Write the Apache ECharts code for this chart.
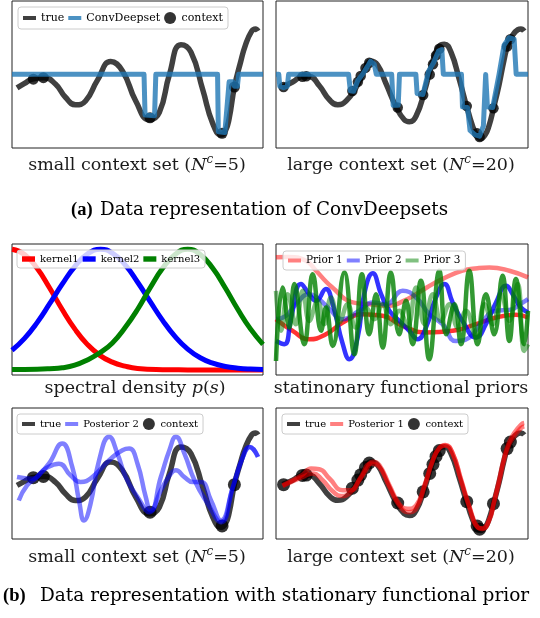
<!DOCTYPE html>
<html><head><meta charset="utf-8">
<script src="https://cdn.jsdelivr.net/npm/echarts@6/dist/echarts.min.js"></script>
<style>html,body{margin:0;padding:0;background:#fff}#c{width:540px;height:618px}</style>
</head><body><div id="c"></div>
<script>
// ---------- data (x: % of panel width, y: % of panel height) ----------
const trueLeft = [[2,40.9],[5,44],[8,46.8],[12.7,47.8],[17.3,43.5],[21.3,34.5],[25.3,29.4],[29.3,32],[34,46],[39.3,58.8],[44,52.4],[49.3,32],[54.7,19.2],[58.7,24.3],[62.7,49.9],[67.3,70.3],[71.3,65.2],[76,39.6],[80,16.6],[83.3,9],[85,11.5],[86.5,20],[88.6,41.5],[91,58],[93,70],[95.5,79.5],[97,81],[98,79.5]];
const trueRight = [[2.6,41.5],[6.6,44.9],[10.6,48.7],[13.2,48.7],[17.2,42.3],[21.2,32.8],[24.5,29.5],[27.8,32],[31.7,41],[35,52.6],[37.7,59],[40.3,56.4],[43.7,43.6],[47.6,28.2],[50.9,19.2],[52.9,17.9],[55.6,21.8],[58.9,38.5],[62.2,59],[64.8,69.2],[66.8,70.5],[69.4,65.4],[72.8,46.2],[76.1,25.6],[79.4,9],[81.3,6.4],[83,9],[84.5,15],[86.3,27],[88.5,43],[90.5,60],[92,70],[94,77],[96,80.5],[97.2,81],[98.5,79.5]];
const ctxSmall = [[8.5,46.8],[12.5,47.8],[55,20.5],[83.7,10],[88.6,41.5]];
const ctxLarge = [[3,41.5],[10.5,48.5],[12,48.8],[30.3,38.8],[32.5,45],[33.6,49],[35.5,54.5],[37,58],[48.3,27.5],[58.4,36],[61,50],[62.3,57],[63.5,63],[64.8,67.5],[75.7,28.5],[79.8,10],[80.8,7.5],[86.3,27],[91.7,69],[93,74]];
const convSmall = [[0,50.2],[52.6,50.2],[53,22.5],[56.8,22],[57.3,50.2],[81.9,50.2],[82.2,11],[84.8,10.5],[86.5,45],[88,45],[88.6,42],[89.8,42],[90.3,50.2],[100,50.2]];
const convLarge = [[0,50.2],[1.1,50.2],[1.5,42],[3,41],[4.5,42],[5,50.2],[28.8,50.2],[29.5,39],[30.8,38.6],[32.5,46],[34.5,50.5],[36.5,56],[37.5,59],[39,57],[39.8,50.2],[45.9,50.2],[46.5,29],[48.5,29],[49,50.2],[55.5,50.2],[56,37],[58.3,36.4],[60.5,52],[62.5,58],[64.5,66],[65.8,67],[66.4,50.2],[73.6,50.2],[74,28],[76,27.5],[77,12],[79,9],[80.8,8],[82.3,15],[83.2,50],[83.9,28],[86,27.5],[88.5,50],[90.5,70],[92.5,75],[94.5,74],[95.3,50.2],[100,50.2]];
const kernel1 = [[0,96],[5,92],[10,81.4],[15,66.4],[20,50],[25,35.2],[30,23.4],[35,15],[40,9.8],[45,6.8],[50,5],[60,4.1],[70,3.9],[80,3.8],[100,3.8]];
const kernel2 = [[0,18.9],[5,28],[10,40],[15,54.4],[20,69.3],[25,82.8],[30,92.3],[35.3,96],[40,93],[45,84.2],[50,71],[55,56.2],[60,41.7],[65,29.3],[70,19.8],[75,13.2],[80,9],[85,6.5],[90,5.2],[95,4.5],[100,4.2]];
const kernel3 = [[0,4.2],[10,4.4],[15,4.8],[20,5.5],[25,7.5],[30,11.5],[35,17],[40,24.5],[45,36],[50,50],[55,66.4],[60,81.4],[65,92],[70,96],[75,92],[80,81.4],[85,66.4],[90,50],[95,35.2],[100,23.4]];
const prior1a = [[0,89.8],[5,90],[11.9,87.2],[15.9,79.6],[20,71],[23.8,64.3],[27,58.5],[30.4,55.4],[37,54],[45,52.8],[50,56],[55.6,61.7],[60,67],[66,73.2],[74,79.6],[80,81.5],[84.7,82.1],[92.6,79.6],[100,74.5]];
const prior1b = [[0,42.6],[6.6,33.7],[13.2,27.3],[19.8,31.1],[26.5,40],[34.4,46.4],[42.3,45.2],[50.3,37.5],[59.5,32.4],[70.1,33.7],[79.4,38.8],[87.3,43.9],[95.2,45.9],[100,43.9]];
const prior2a = [[0,42.6],[4,45.2],[7.9,54],[13.2,61.7],[17,58],[21.2,50.3],[26.5,42.6],[33,49],[38.4,55.4],[43.7,54],[50.3,64.3],[55.6,59.2],[60.8,46.4],[66.1,38.8],[71.4,26],[76.7,28.6],[82,41.3],[87.3,49],[92.6,49.7],[97.9,55.4],[100,57.9]];
const prior2b = [[0,26],[3.3,23.5],[6,43.9],[9.9,69.4],[13.2,61.7],[15.9,56.6],[19.8,65.6],[22.5,54],[26.5,23.5],[29.1,12],[32.4,28.6],[35,61.7],[38.4,77.6],[41.7,61.7],[45,49],[48.9,41.3],[52.9,33.7],[56.2,27.3],[59.5,36.2],[63.5,59.2],[66.8,69.4],[70.1,55.4],[74,41.3],[79.4,28.6],[83.3,38.8],[87.3,55.4],[91.3,68.1],[93.9,61.7],[97.2,51.5],[100,47.7]];
const prior3a = [[0,64.3],[2,33.7],[4.6,61.7],[7.9,38.8],[10.6,64.3],[13.2,41.3],[16.5,56.6],[19.2,38.8],[21.8,59.2],[25.1,40],[28.4,54.1],[31.7,36.2],[35.7,51.5],[39,42.6],[42.3,54.1],[45.6,38.8],[48.9,49],[52.2,37.5],[55.6,66.8],[58.9,38.8],[62.2,61.7],[65.5,41.3],[68.8,54.1],[72.1,36.2],[75.4,49],[79.4,28.6],[82.7,54.1],[86,38.8],[89.3,61.7],[92.6,41.3],[95.9,69.4],[98.5,18.4],[100,23.5]];
const prior3b = [[0,10.7],[2.6,66.8],[5.3,36.2],[7.3,69.4],[11.2,23.5],[14.6,77],[17.9,33.7],[19.8,51.5],[22.5,22.2],[27.1,78.3],[31.1,15.8],[34.1,77],[37,31.1],[39.7,61.7],[42.3,20.9],[45.6,78.3],[48.9,31.1],[51.6,56.6],[54.2,23.5],[57.5,71.9],[60.8,12],[64.8,79.6],[67.5,31.1],[70.8,54.1],[73.4,23.5],[76.7,79.6],[80,23.5],[83.3,61.7],[86.6,31.1],[89.9,75.8],[92.6,26],[95.2,73.2],[98.5,23.5],[100,49]];
const post2a = [[2.7,29.4],[6,40.9],[10,47.3],[14.7,57.5],[20,72.9],[24,55],[26.7,29.4],[28.7,14.1],[31.3,26.9],[34.7,60.1],[38.7,78],[42,65.2],[45.3,47.3],[50,32],[54.7,20.5],[59.3,47.3],[62.7,67.8],[65.3,78],[68.7,65.2],[72.7,44.8],[78,26.9],[83.3,12.8],[88,39.6],[92,62.7],[94.7,70.3],[98,62.7]];
const post2b = [[2,47.3],[8,46],[13.3,53.7],[18.7,57.5],[23.3,48.6],[27.3,43.5],[32,47.3],[38.7,60.1],[44,67.8],[46.7,69],[50,57.5],[53.3,32],[55.3,21.7],[59.3,37],[63.3,49.9],[65.3,52.4],[68.7,47.3],[72,43.5],[75.3,43.5],[79.3,29.4],[83.3,14.1],[88,39.6],[92,62.7],[94.7,70.3],[98,62.7]];
const post1a = [[2.6,41],[6.6,44.9],[10.6,49.2],[13.9,53.8],[17.2,53.3],[21.2,46.2],[26.5,37.2],[29.8,37.2],[33.1,44.9],[35.7,52.6],[38.4,59],[41,56.4],[45,41],[48.9,26.9],[52.2,23.1],[55.6,25.6],[58.9,41],[62.2,60.3],[64.8,69.7],[67.2,71.8],[70.1,65.4],[73.4,44.9],[76.7,24.4],[80,9],[82,8.2],[84.7,15.4],[86.3,27],[88.5,45],[90.5,62],[92.5,74],[94.6,81],[97.2,87.2],[98.5,88.5]];
const post1b = [[2.6,40.5],[10.6,47.4],[14.6,50],[18.5,44.9],[22.5,36.4],[25.8,32.8],[29.8,35.9],[33.7,47.4],[37.7,57.7],[41,55.1],[45,39.7],[48.9,25.6],[52.6,20.5],[55.6,23.1],[58.9,39.7],[62.2,59.5],[64.8,69.2],[67.2,71.3],[70.1,65.4],[73.4,45.6],[76.7,25.1],[80,9],[82,7.7],[84.7,14.6],[86.3,26],[88.5,43],[90.5,60],[92.5,72],[94.6,78.5],[97.2,84.6],[98.5,86]];

// ---------- helpers ----------
const SERIF = 'DejaVu Serif';
function lineS(name, data, g, color, width, opacity, z, smooth) {
  return {type:'line', name, data, xAxisIndex:g, yAxisIndex:g, showSymbol:false, symbol:'none',
    smooth: smooth, lineStyle:{color, width, opacity, join:'round', cap:'butt'},
    itemStyle:{color}, z, silent:true, animation:false};
}
function ctxS(data, g, size) {
  return {type:'scatter', name:'context', data, xAxisIndex:g, yAxisIndex:g, symbol:'circle',
    symbolSize:size, itemStyle:{color:'#000'}, z:3, silent:true, animation:false};
}
const LINE_ICON = 'path://M0,0H13V4H0Z';
const LINE_ICON_THICK = 'path://M0,0H12V5H0Z';
function legendFor(items, left, top, fontSize, pad, gap) {
  return {left, top, orient:'horizontal', itemWidth:13, itemHeight:12, itemGap:gap, padding:pad,
    backgroundColor:'rgba(255,255,255,0.8)', borderColor:'#cccccc', borderWidth:1, borderRadius:3,
    selectedMode:false, z:10, itemStyle:{borderWidth:0},
    textStyle:{fontFamily:SERIF, fontSize, color:'#000'},
    data: items.map(it => ({name:it[0], icon:it[2], itemStyle:{color:it[1], borderWidth:0}}))};
}

const gridBoxes = [
  {left:12, top:1, width:251, height:147},
  {left:276, top:1, width:252, height:147},
  {left:12, top:244, width:251, height:131},
  {left:276, top:244, width:252, height:131},
  {left:12, top:408, width:251, height:131},
  {left:276, top:408, width:252, height:131}
];

const series = [
  lineS('true', trueLeft, 0, '#000', 5.5, 0.75, 2, 0.5),
  ctxS(ctxSmall, 0, 11),
  lineS('ConvDeepset', convSmall, 0, '#1f77b4', 5, 0.8, 4, false),
  lineS('true', trueRight, 1, '#000', 5.5, 0.75, 2, 0.5),
  ctxS(ctxLarge, 1, 10.5),
  lineS('ConvDeepset', convLarge, 1, '#1f77b4', 5, 0.8, 4, false),
  lineS('kernel1', kernel1, 2, '#ff0000', 5, 1, 2, 0.5),
  lineS('kernel2', kernel2, 2, '#0000ff', 5, 1, 2, 0.5),
  lineS('kernel3', kernel3, 2, '#008000', 5, 1, 2, 0.5),
  lineS('Prior 1', prior1a, 3, '#ff0000', 4.5, 0.5, 2, 0.5),
  lineS('Prior 1', prior1b, 3, '#ff0000', 4.5, 0.8, 2, 0.5),
  lineS('Prior 2', prior2a, 3, '#0000ff', 4.5, 0.5, 2, 0.5),
  lineS('Prior 2', prior2b, 3, '#0000ff', 4.5, 0.8, 2, 0.5),
  lineS('Prior 3', prior3a, 3, '#008000', 4.5, 0.5, 2, 0.45),
  lineS('Prior 3', prior3b, 3, '#008000', 4.5, 0.8, 2, 0.45),
  lineS('true', trueLeft, 4, '#000', 5.5, 0.75, 2, 0.5),
  ctxS(ctxSmall, 4, 13),
  lineS('Posterior 2', post2a, 4, '#0000ff', 4.5, 0.5, 4, 0.5),
  lineS('Posterior 2', post2b, 4, '#0000ff', 4.5, 0.5, 4, 0.5),
  lineS('true', trueRight, 5, '#000', 5.5, 0.75, 2, 0.5),
  ctxS(ctxLarge, 5, 13),
  lineS('Posterior 1', post1a, 5, '#ff0000', 4.5, 0.5, 4, 0.5),
  lineS('Posterior 1', post1b, 5, '#ff0000', 4.5, 0.5, 4, 0.5)
];

const legends = [
  legendFor([['true','#404040',LINE_ICON],['ConvDeepset','#4c92c3',LINE_ICON],['context','#000','circle']], 18, 7, 11, [5,5], 4),
  legendFor([['kernel1','#ff0000',LINE_ICON_THICK],['kernel2','#0000ff',LINE_ICON_THICK],['kernel3','#008000',LINE_ICON_THICK]], 17, 250, 10, [4,5], 4),
  legendFor([['Prior 1','#ff8080',LINE_ICON],['Prior 2','#8080ff',LINE_ICON],['Prior 3','#80c080',LINE_ICON]], 283, 251, 10.5, [4,5], 4),
  legendFor([['true','#404040',LINE_ICON],['Posterior 2','#8080ff',LINE_ICON],['context','#000','circle']], 17, 414, 10, [4,5], 4),
  legendFor([['true','#404040',LINE_ICON],['Posterior 1','#ff8080',LINE_ICON],['context','#000','circle']], 282, 414, 10, [4,5], 4)
];

const capRich = {
  r:{fontFamily:SERIF, fontSize:17.5, lineHeight:22, color:'#1a1a1a', fill:'#1a1a1a'},
  i:{fontFamily:SERIF, fontSize:17.5, lineHeight:22, fontStyle:'italic', color:'#1a1a1a', fill:'#1a1a1a'},
  s:{fontFamily:SERIF, fontSize:12, lineHeight:13, fontStyle:'italic', verticalAlign:'top', color:'#1a1a1a', fill:'#1a1a1a'}
};
function cap(x, y, text) {
  return {type:'text', x, y, silent:true, z:20,
    style:{text, rich:capRich, align:'center', textAlign:'center', verticalAlign:'middle', textVerticalAlign:'middle'}};
}
function plain(x, y, text, font, size, weight) {
  return {type:'text', x, y, silent:true, z:20,
    style:{text, fontFamily:font, fontSize:size, fontWeight:weight, fill:'#000',
      align:'left', textAlign:'left', verticalAlign:'middle', textVerticalAlign:'middle'}};
}
const graphics = [
  cap(137, 165, '{r|small context set (}{i|N}{s|c}{r|=5)}'),
  cap(401, 165, '{r|large context set (}{i|N}{s|c}{r|=20)}'),
  cap(135, 388, '{r|spectral density }{i|p}{r|(}{i|s}{r|)}'),
  cap(401, 388, '{r|statinonary functional priors}'),
  cap(137, 557, '{r|small context set (}{i|N}{s|c}{r|=5)}'),
  cap(401, 557, '{r|large context set (}{i|N}{s|c}{r|=20)}'),
  plain(71, 210, '(a)', 'Liberation Serif', 18.5, 'bold'),
  plain(100, 210, 'Data representation of ConvDeepsets', SERIF, 18.3, 'normal'),
  plain(3, 596, '(b)', 'Liberation Serif', 18.5, 'bold'),
  plain(40, 596, 'Data representation with stationary functional prior', SERIF, 18.5, 'normal')
];

const option = {
  animation:false,
  backgroundColor:'#fff',
  grid: gridBoxes.map(b => Object.assign({show:true, borderColor:'#222', borderWidth:1, backgroundColor:'transparent', containLabel:false}, b)),
  xAxis: gridBoxes.map((b,i) => ({type:'value', gridIndex:i, min:0, max:100, show:false})),
  yAxis: gridBoxes.map((b,i) => ({type:'value', gridIndex:i, min:0, max:100, show:false})),
  legend: legends,
  series,
  graphic: graphics
};
const chart = echarts.init(document.getElementById('c'), null, {renderer:'canvas'});
chart.setOption(option);
</script></body></html>
